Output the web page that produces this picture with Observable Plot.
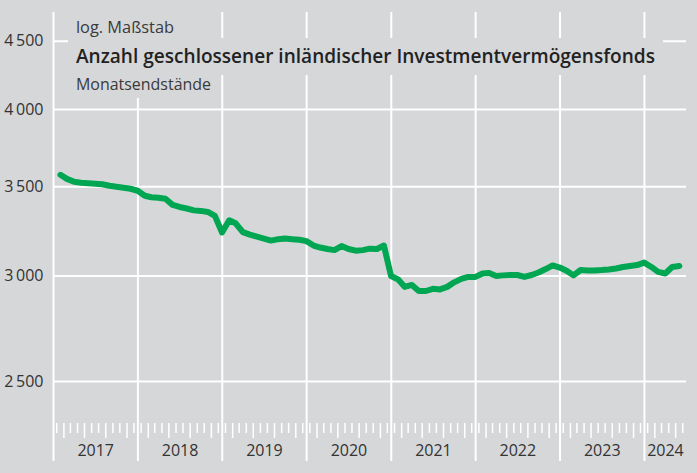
<!DOCTYPE html>
<html><head><meta charset="utf-8">
<script src="https://cdn.jsdelivr.net/npm/d3@7"></script>
<script src="https://cdn.jsdelivr.net/npm/@observablehq/plot@0.6"></script>
<style>
html,body{margin:0;padding:0;background:#d6d7d9;}
#chart{position:relative;width:697px;height:473px;}
</style></head><body><div id="chart"></div>
<script>
// Month-end values (number of closed-end domestic investment funds)
const values2017 = [3573, 3548, 3530, 3524, 3521, 3518, 3515, 3506, 3500, 3494, 3488, 3476];
const values2018 = [3446, 3437, 3434, 3428, 3392, 3380, 3371, 3360, 3357, 3351, 3328, 3234];
const values2019 = [3303, 3286, 3236, 3222, 3211, 3200, 3189, 3197, 3200, 3197, 3194, 3186];
const values2020 = [3162, 3151, 3143, 3137, 3159, 3143, 3134, 3137, 3145, 3143, 3162, 3000];
const values2021 = [2982, 2944, 2954, 2923, 2923, 2934, 2931, 2944, 2967, 2985, 2995, 2995];
const values2022 = [3013, 3015, 3000, 3003, 3005, 3005, 2995, 3005, 3018, 3036, 3055, 3044];
const values2023 = [3026, 3003, 3031, 3029, 3029, 3031, 3034, 3039, 3047, 3052, 3057, 3070];
const values2024 = [3047, 3021, 3013, 3047, 3052];

const years = [2017, 2018, 2019, 2020, 2021, 2022, 2023, 2024];
const yearLabels = ["2017", "2018", "2019", "2020", "2021", "2022", "2023", "2024"];
const yTicks = [2500, 3000, 3500, 4000, 4500];
const titleText = "Anzahl geschlossener inländischer Investmentvermögensfonds";
const scaleNote = "log. Maßstab";
const subtitleText = "Monatsendstände";

const seriesByYear = [values2017, values2018, values2019, values2020, values2021, values2022, values2023, values2024];
const data = [];
seriesByYear.forEach((vals, i) => {
  vals.forEach((v, m) => data.push({date: new Date(Date.UTC(years[i], m + 1, 0)), value: v}));
});

const xStart = new Date(Date.UTC(2017, 0, 1));
const xEnd = new Date(Date.UTC(2024, 6, 1));

// month tick positions (mid-month) over the axis span
const monthTicks = [];
for (let y = 2017; y <= 2024; y++) {
  for (let m = 0; m < 12; m++) {
    const d = new Date(Date.UTC(y, m, 15));
    if (d < xEnd) monthTicks.push({date: d, long: (m % 3) === 1});
  }
}
const yearStarts = years.map(y => new Date(Date.UTC(y, 0, 1)));
const labelPos = years.map((y, i) => {
  const a = Date.UTC(y, 0, 1);
  const b = Math.min(Date.UTC(y + 1, 0, 1), +xEnd);
  return {date: new Date((a + b) / 2), text: yearLabels[i]};
});

const fmt = d => `${Math.floor(d / 1000)}\u2009${String(d % 1000).padStart(3, "0")}`;
const bg = "#d6d7d9";

const plot = Plot.plot({
  width: 697,
  height: 473,
  marginLeft: 53,
  marginRight: 11,
  marginTop: 12,
  marginBottom: 12,
  style: {background: bg, fontFamily: "'Open Sans', sans-serif", fontSize: "16px", color: "#333"},
  x: {type: "utc", domain: [xStart, xEnd], axis: null},
  y: {type: "log", domain: [2177, 4730], axis: null},
  marks: [
    Plot.ruleY(yTicks, {stroke: "white", strokeWidth: 2}),
    Plot.ruleX(yearStarts, {stroke: "white", strokeWidth: 2}),
    Plot.ruleX(monthTicks.filter(d => !d.long), {x: "date", stroke: "white", strokeWidth: 1.5, insetTop: 411, insetBottom: 28}),
    Plot.ruleX(monthTicks.filter(d => d.long), {x: "date", stroke: "white", strokeWidth: 1.5, insetTop: 411, insetBottom: 23}),
    Plot.axisY(yTicks, {tickSize: 0, tickPadding: 10, tickFormat: fmt, label: null, fontSize: 16, fill: "#333"}),
    Plot.text(labelPos, {x: "date", text: "text", frameAnchor: "bottom", dy: -6, fontSize: 16, fill: "#333"}),
    Plot.line(data, {x: "date", y: "value", stroke: "#00a651", strokeWidth: 6, strokeLinejoin: "round"})
  ]
});

document.getElementById("chart").appendChild(plot);

// Title block with background boxes that mask the grid, as in the original
const svg = d3.select(plot);
const g = svg.append("g").attr("text-anchor", "start");
g.append("rect").attr("x", 68).attr("y", 0).attr("width", 118).attr("height", 38).attr("fill", bg);
g.append("rect").attr("x", 68).attr("y", 38).attr("width", 595).attr("height", 37).attr("fill", bg);
g.append("rect").attr("x", 68).attr("y", 75).attr("width", 148).attr("height", 23).attr("fill", bg);
g.append("text").attr("x", 76).attr("y", 33).attr("font-size", 16).attr("fill", "#3a3a3a").attr("text-anchor", "start")
  .attr("textLength", 98).attr("lengthAdjust", "spacingAndGlyphs").text(scaleNote);
g.append("text").attr("x", 76).attr("y", 63).attr("font-size", 19.5).attr("font-weight", 600).attr("fill", "#222").attr("text-anchor", "start")
  .attr("textLength", 579).attr("lengthAdjust", "spacingAndGlyphs").text(titleText);
g.append("text").attr("x", 76).attr("y", 90).attr("font-size", 16).attr("fill", "#3a3a3a").attr("text-anchor", "start")
  .attr("textLength", 135).attr("lengthAdjust", "spacingAndGlyphs").text(subtitleText);
</script>
</body></html>
